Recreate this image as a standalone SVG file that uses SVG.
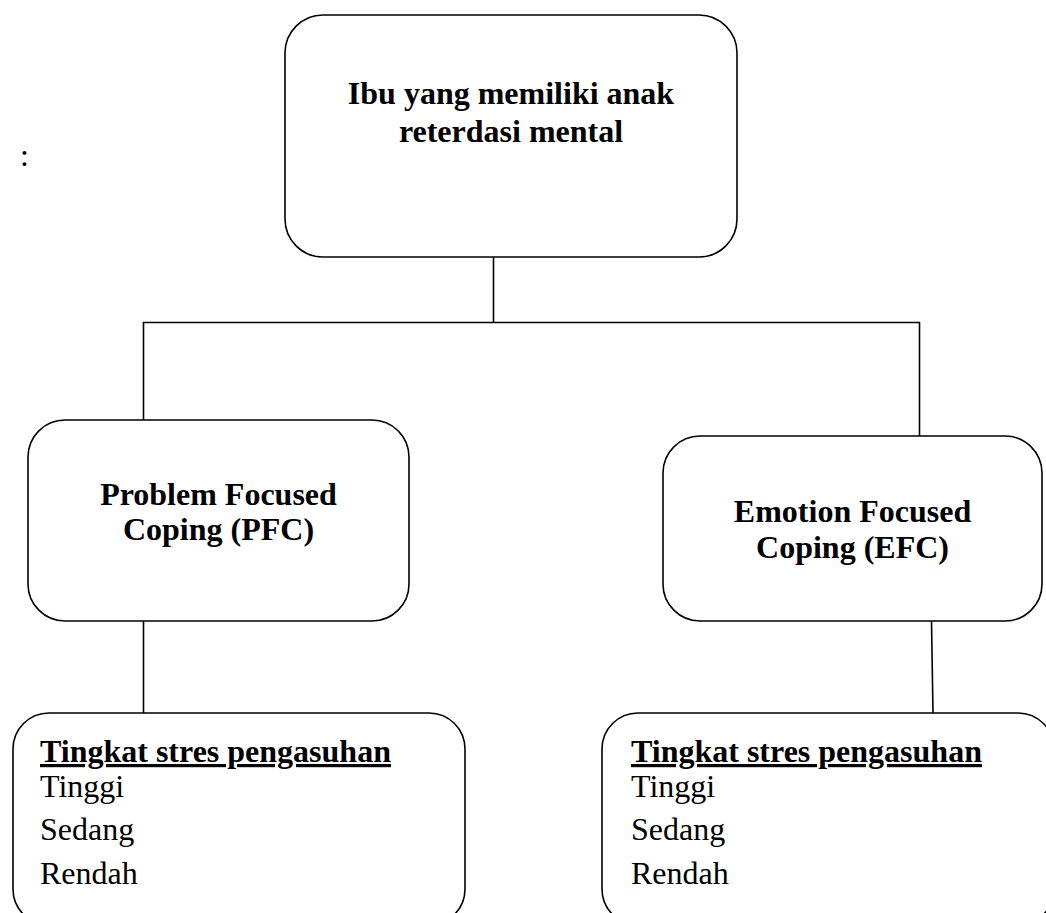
<svg xmlns="http://www.w3.org/2000/svg" width="1046" height="913" viewBox="0 0 1046 913">
<style>
.box{fill:#fff;stroke:#000;stroke-width:1.6}
.conn{fill:none;stroke:#000;stroke-width:1.6}
.t{font-family:"Liberation Serif","Times New Roman",serif;font-size:32px;fill:#000}
.b{font-weight:bold}
.c{text-anchor:middle}
.u{text-decoration:underline}
</style>
<rect width="1046" height="913" fill="#fff"/>
<text class="t" x="20" y="166" font-size="24">:</text>
<g id="connectors">
<path class="conn" d="M493.5 257 V322.5 M143.5 420 V322.5 H919.5 V436"/>
<path class="conn" d="M143.5 621 V713"/>
<path class="conn" d="M931.5 621 L933 713"/>
</g>
<g id="top">
<rect class="box" x="285" y="15" width="452" height="242" rx="38" ry="38"/>
<text class="t b c" x="511" y="104">Ibu yang memiliki anak</text>
<text class="t b c" x="511" y="142">reterdasi mental</text>
</g>
<g id="pfc">
<rect class="box" x="28" y="420" width="381" height="201" rx="37" ry="37"/>
<text class="t b c" x="218.5" y="505">Problem Focused</text>
<text class="t b c" x="218.5" y="540">Coping (PFC)</text>
</g>
<g id="efc">
<rect class="box" x="663" y="436" width="379" height="185" rx="37" ry="37"/>
<text class="t b c" x="852.5" y="522">Emotion Focused</text>
<text class="t b c" x="852.5" y="558">Coping (EFC)</text>
</g>
<g id="stres-pfc">
<rect class="box" x="13" y="713" width="452" height="212" rx="36" ry="36"/>
<text class="t b u" x="40" y="762">Tingkat stres pengasuhan</text>
<text class="t" x="40" y="797">Tinggi</text>
<text class="t" x="40" y="840">Sedang</text>
<text class="t" x="40" y="884">Rendah</text>
</g>
<g id="stres-efc">
<rect class="box" x="602" y="713" width="452" height="212" rx="36" ry="36"/>
<text class="t b u" x="631" y="762">Tingkat stres pengasuhan</text>
<text class="t" x="631" y="797">Tinggi</text>
<text class="t" x="631" y="840">Sedang</text>
<text class="t" x="631" y="884">Rendah</text>
</g>
</svg>
